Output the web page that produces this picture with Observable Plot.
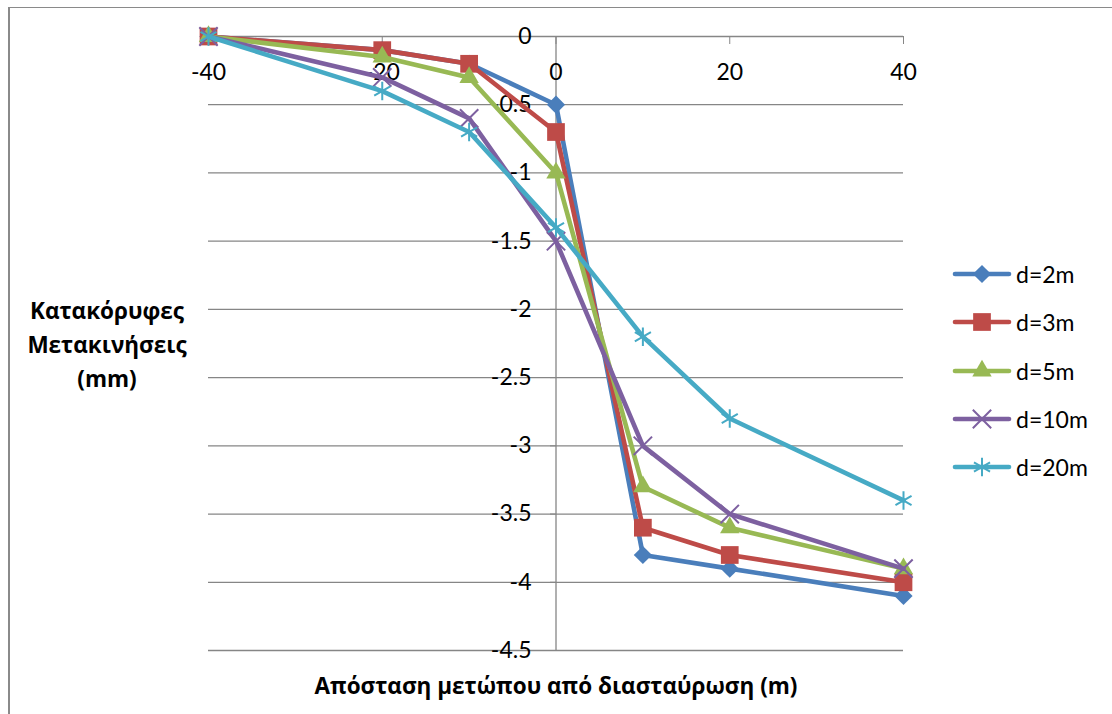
<!DOCTYPE html>
<html>
<head>
<meta charset="utf-8">
<script src="https://cdn.jsdelivr.net/npm/d3@7"></script>
<script src="https://cdn.jsdelivr.net/npm/@observablehq/plot@0.6"></script>
<style>
  body { margin: 0; background: #fff; }
  #wrap { position: relative; width: 1112px; height: 714px; overflow: hidden; background: #fff; }
  #wrap svg.plot { position: absolute; left: 0; top: 0; }
  .border-top { position: absolute; left: 8px; top: 7px; right: 0; height: 1px; background: #8a8a8a; }
  .border-left { position: absolute; left: 8px; top: 7px; bottom: 0; width: 2px; background: #8a8a8a; }
  .ytitle { position: absolute; left: 0; top: 294px; width: 214px; text-align: center;
            font: bold 22.5px "Open Sans", "Noto Sans", sans-serif; line-height: 34px; color: #000; }
  .xtitle { position: absolute; left: 0; width: 1112px; top: 670px; text-align: center;
            font: bold 22.5px "Open Sans", "Noto Sans", sans-serif; color: #000; }
  .legend { position: absolute; left: 950px; top: 250px; font: 23px Lato, "Open Sans", sans-serif; color: #000; }
  .legend .row { display: flex; align-items: center; height: 48.3px; }
  .legend svg { margin-right: 4px; }
</style>
</head>
<body>
<div id="wrap">
  <div class="border-top"></div>
  <div class="border-left"></div>
</div>
<script>
// ---- data ----
const xValues = [-40, -20, -10, 0, 10, 20, 40];
const seriesNames = ["d=2m", "d=3m", "d=5m", "d=10m", "d=20m"];
const d2m  = [0, -0.1, -0.2, -0.5, -3.8, -3.9, -4.1];
const d3m  = [0, -0.1, -0.2, -0.7, -3.6, -3.8, -4.0];
const d5m  = [0, -0.15, -0.3, -1.0, -3.3, -3.6, -3.9];
const d10m = [0, -0.3, -0.6, -1.5, -3.0, -3.5, -3.9];
const d20m = [0, -0.4, -0.7, -1.4, -2.2, -2.8, -3.4];
const xTicks = [-40, -20, 0, 20, 40];
const yTicks = [0, -0.5, -1, -1.5, -2, -2.5, -3, -3.5, -4, -4.5];
const xTitle = "Απόσταση μετώπου από διασταύρωση (m)";
const yTitleLines = ["Κατακόρυφες", "Μετακινήσεις", "(mm)"];

// ---- styles ----
const colors = ["#4A7EBB", "#BE4B48", "#98B954", "#7D60A0", "#46AAC5"];
const symbols = ["diamond2", "square", "triangle", "times", "asterisk"];
const symbolR = [8.2, 10, 7.2, 8.4, 8.8];
const filled = [true, true, true, false, false];

const allValues = [d2m, d3m, d5m, d10m, d20m];
const table = seriesNames.flatMap((name, i) =>
  xValues.map((x, j) => ({series: name, idx: i, x, y: allValues[i][j]})));

const W = 1112, H = 714;
const mL = 208, mR = 209, mT = 36, mB = 64;

const marks = [
  Plot.ruleY(yTicks, {stroke: "#868686", strokeWidth: 1.3}),
  Plot.ruleX([0], {stroke: "#868686", strokeWidth: 1.3}),
  Plot.axisX({anchor: "bottom", ticks: xTicks, tickSize: 8, tickPadding: 19,
              dy: -(H - mT - mB), stroke: "#868686", fill: "#000",
              fontSize: 23, label: null, tickFormat: d => String(d)}),
  Plot.axisY({anchor: "left", ticks: yTicks, tickSize: 6, tickPadding: 19,
              dx: 348, stroke: "#868686", fill: "#000",
              fontSize: 23, label: null, tickFormat: d => String(d)})
];
seriesNames.forEach((name, i) => {
  const data = table.filter(d => d.series === name);
  marks.push(Plot.line(data, {x: "x", y: "y", stroke: colors[i], strokeWidth: 4.6,
                              strokeLinejoin: "round", strokeLinecap: "round"}));
  marks.push(Plot.dot(data, filled[i]
    ? {x: "x", y: "y", symbol: () => symbols[i], r: symbolR[i], fill: colors[i], stroke: "none"}
    : {x: "x", y: "y", symbol: () => symbols[i], r: symbolR[i], fill: "none", stroke: colors[i], strokeWidth: 2}));
});

const chart = Plot.plot({
  width: W, height: H,
  marginLeft: mL, marginRight: mR, marginTop: mT, marginBottom: mB,
  x: {domain: [-40, 40], label: null},
  y: {domain: [-4.5, 0], label: null},
  symbol: {type: "identity"},
  style: {fontFamily: "Lato, 'Open Sans', sans-serif", fontSize: "23px", background: "transparent", color: "#000", overflow: "visible"},
  marks
});
chart.classList.add("plot");
const wrap = document.getElementById("wrap");
wrap.appendChild(chart);

// titles
const yt = document.createElement("div");
yt.className = "ytitle";
yt.innerHTML = yTitleLines.join("<br>");
wrap.appendChild(yt);
const xt = document.createElement("div");
xt.className = "xtitle";
xt.textContent = xTitle;
wrap.appendChild(xt);

// legend
const leg = document.createElement("div");
leg.className = "legend";
const symMap = {diamond2: d3.symbolDiamond2, square: d3.symbolSquare, triangle: d3.symbolTriangle, times: d3.symbolTimes, asterisk: d3.symbolAsterisk};
seriesNames.forEach((name, i) => {
  const row = document.createElement("div");
  row.className = "row";
  const ns = "http://www.w3.org/2000/svg";
  const s = document.createElementNS(ns, "svg");
  s.setAttribute("width", 62); s.setAttribute("height", 26);
  const ln = document.createElementNS(ns, "line");
  ln.setAttribute("x1", 5); ln.setAttribute("x2", 59); ln.setAttribute("y1", 13); ln.setAttribute("y2", 13);
  ln.setAttribute("stroke", colors[i]); ln.setAttribute("stroke-width", 4.6); ln.setAttribute("stroke-linecap", "round");
  s.appendChild(ln);
  const p = document.createElementNS(ns, "path");
  const size = Math.PI * symbolR[i] * symbolR[i];
  p.setAttribute("d", d3.symbol(symMap[symbols[i]], size)());
  p.setAttribute("transform", "translate(32,13)");
  if (filled[i]) { p.setAttribute("fill", colors[i]); }
  else { p.setAttribute("fill", "none"); p.setAttribute("stroke", colors[i]); p.setAttribute("stroke-width", 2); }
  s.appendChild(p);
  row.appendChild(s);
  const t = document.createElement("span");
  t.textContent = name;
  row.appendChild(t);
  leg.appendChild(row);
});
wrap.appendChild(leg);
</script>
</body>
</html>
